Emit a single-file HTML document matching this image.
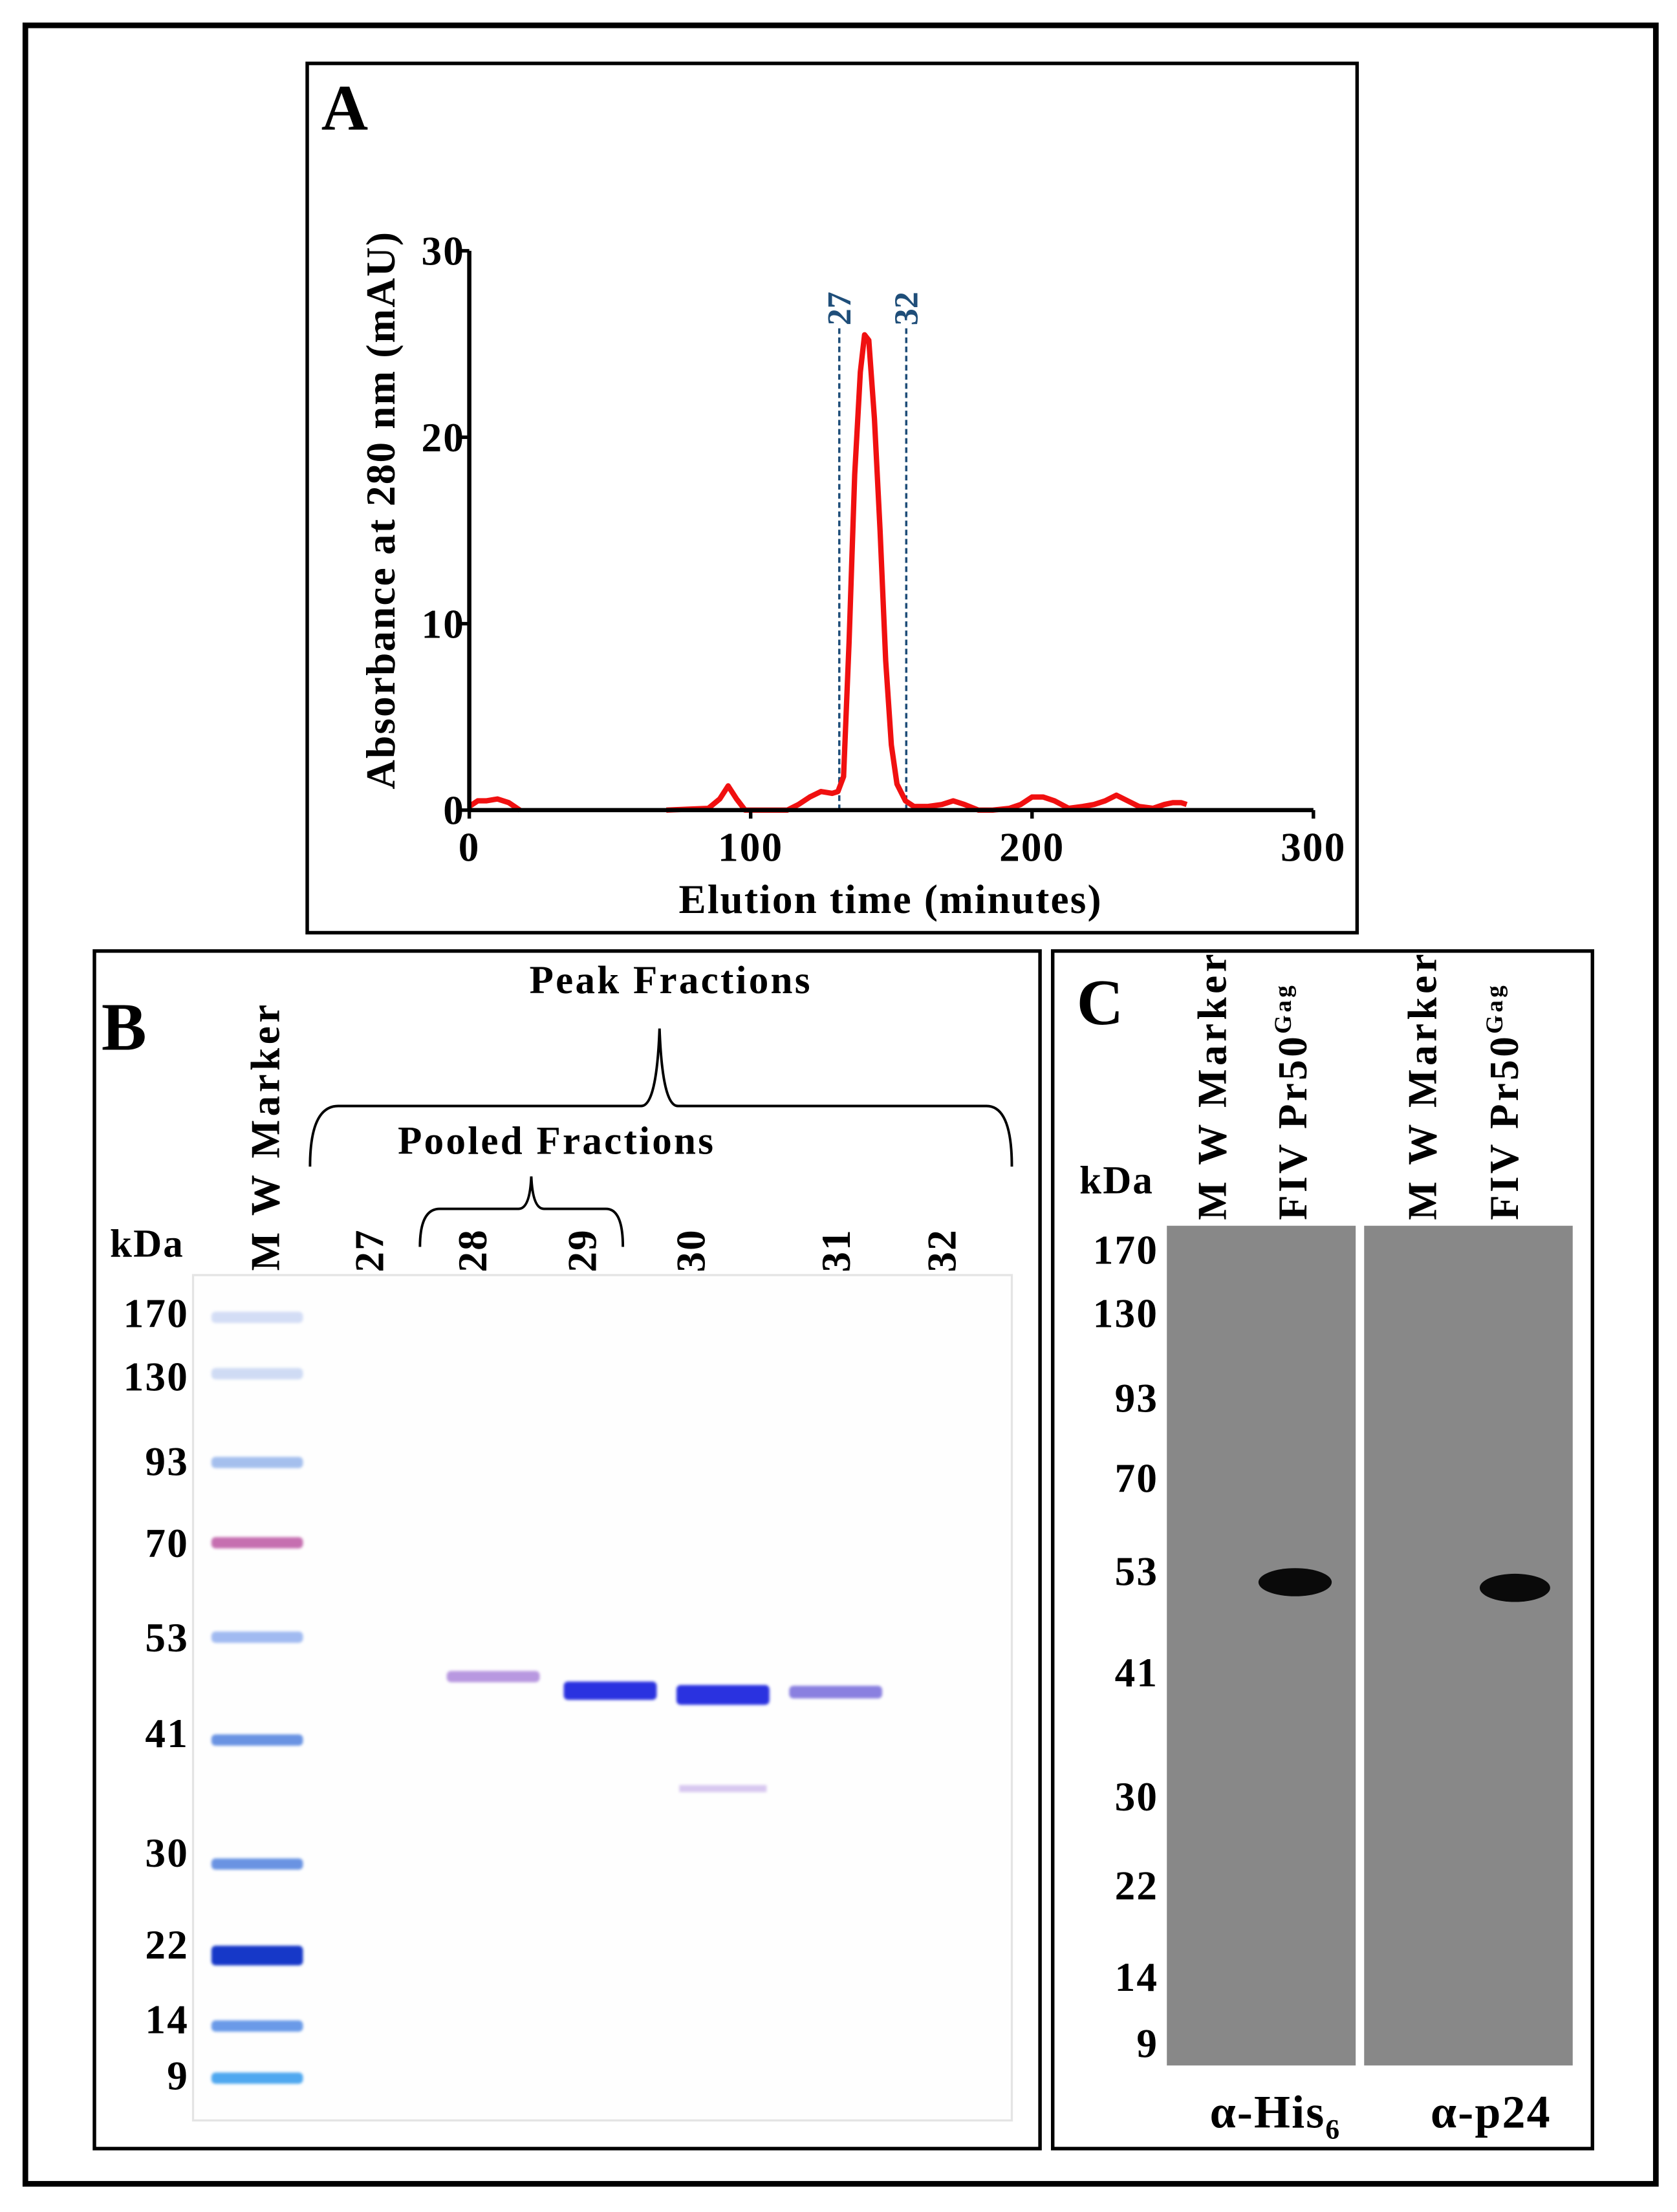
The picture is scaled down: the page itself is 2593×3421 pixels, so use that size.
<!DOCTYPE html>
<html><head><meta charset="utf-8"><style>
html,body{margin:0;padding:0;background:#fff;}
svg{display:block;}
text{font-family:"Liberation Serif",serif;font-weight:bold;fill:#000;}
</style></head><body>
<svg id="fig" width="2593" height="3421" viewBox="0 0 1190 1570" xmlns="http://www.w3.org/2000/svg">
<defs>
<filter id="blur2" x="-20%" y="-200%" width="140%" height="500%"><feGaussianBlur stdDeviation="1"/></filter>
</defs>
<rect x="0" y="0" width="1190" height="1570" fill="#fff"/>
<rect x="18" y="18" width="1157" height="1532" fill="none" stroke="#000" stroke-width="4"/>

<g>
<rect x="218" y="45" width="745" height="617" fill="none" stroke="#000" stroke-width="2.5"/>
<text x="228" y="92" font-size="46">A</text>
<g id="chartA"></g>
<text x="632" y="648" font-size="29" letter-spacing="1" text-anchor="middle">Elution time (minutes)</text>
<text transform="translate(280,362) rotate(-90)" font-size="29" letter-spacing="1" text-anchor="middle">Absorbance at 280 nm (mAU)</text>
</g>

<g>
<rect x="67" y="675" width="671" height="850" fill="none" stroke="#000" stroke-width="2.5"/>
<text x="72" y="745" font-size="48">B</text>
<text x="476" y="705" font-size="28" letter-spacing="1.5" text-anchor="middle">Peak Fractions</text>
<path d="M220,828 Q220,785 240,785 L455,785 Q466,785 468,730 Q470,785 481,785 L700,785 Q718,785 718,828" fill="none" stroke="#000" stroke-width="1.8"/>
<text x="395" y="819" font-size="28" letter-spacing="1.5" text-anchor="middle">Pooled Fractions</text>
<path d="M298,885 Q298,858 312,858 L368,858 Q376,858 377,835 Q378,858 386,858 L430,858 Q442,858 442,885" fill="none" stroke="#000" stroke-width="1.8"/>
<text x="78" y="892" font-size="28" letter-spacing="1">kDa</text>
<text transform="translate(198,902) rotate(-90)" font-size="29" letter-spacing="2.5">M W Marker</text>
<g id="laneNums" font-size="29" letter-spacing="1"></g>
<rect x="137" y="905" width="581" height="600" fill="#fefefe" stroke="#e4e4e4" stroke-width="1.5"/>
<g id="gelB"></g>
</g>

<g>
<rect x="747" y="675" width="383" height="850" fill="none" stroke="#000" stroke-width="2.5"/>
<text x="764" y="727" font-size="46">C</text>
<text x="766" y="847" font-size="28" letter-spacing="1">kDa</text>
<text transform="translate(870,866) rotate(-90)" font-size="29" letter-spacing="2.5">M W Marker</text>
<text transform="translate(927,866) rotate(-90)" font-size="29" letter-spacing="2">FIV Pr50<tspan font-size="17" dy="-11">Gag</tspan></text>
<text transform="translate(1019,866) rotate(-90)" font-size="29" letter-spacing="2.5">M W Marker</text>
<text transform="translate(1077,866) rotate(-90)" font-size="29" letter-spacing="2">FIV Pr50<tspan font-size="17" dy="-11">Gag</tspan></text>
<rect x="828" y="870" width="134" height="596" fill="#888"/>
<rect x="968" y="870" width="148" height="596" fill="#888"/>
<ellipse cx="919" cy="1123" rx="26" ry="10" fill="#0a0a0a"/>
<ellipse cx="1075" cy="1127" rx="25" ry="10" fill="#0a0a0a"/>
<g id="mwC" font-size="29" letter-spacing="1"></g>
<text x="905" y="1510" font-size="33" letter-spacing="1" text-anchor="middle">α-His<tspan font-size="20" dy="8">6</tspan></text>
<text x="1058" y="1510" font-size="33" letter-spacing="1" text-anchor="middle">α-p24</text>
</g>
</svg>
<script>
const timeMin = [0,3,6,10,14,18,70,78,85,89,92,95,98,113,117,121,125,129,131,133,135,137,139,140.5,142,144,146,148,150,152,155,158,163,168,172,176,181,186,192,196,200,204,208,213,218,222,226,230,234,238,243,247,250,253,255];
const absorb = [0.2,0.5,0.5,0.6,0.4,0,0,0.05,0.1,0.6,1.3,0.6,0,0,0.3,0.7,1.0,0.9,1.0,1.8,9,18,23.5,25.5,25.2,21,15,8,3.5,1.4,0.5,0.2,0.2,0.3,0.5,0.3,0,0,0.1,0.3,0.7,0.7,0.5,0.1,0.2,0.3,0.5,0.8,0.5,0.2,0.1,0.3,0.4,0.4,0.3];
const fractionMarks = [131.5, 155.3];
const fractionNames = ["27","32"];
const xTicks = [0,100,200,300];
const yTicks = [0,10,20,30];

const NS = "http://www.w3.org/2000/svg";
const X0=333, X1=932, Y0=575, Y1=178;
const xs = v => X0 + (v/300)*(X1-X0);
const ys = v => Y0 - (v/30)*(Y0-Y1);
const chart = document.getElementById('chartA');
function mk(tag, attrs, parent){const e=document.createElementNS(NS,tag);for(const k in attrs)e.setAttribute(k,attrs[k]);parent.appendChild(e);return e;}

fractionMarks.forEach((f,i)=>{
  const l = mk('line',{x1:xs(f),x2:xs(f),y1:Y0,y2:232,stroke:'#1f4e79','stroke-width':1.6,'stroke-dasharray':'4,2.5'},chart);
  
  
  const t = mk('text',{transform:`translate(${xs(f)+8},231) rotate(-90)`,'font-size':24,style:'fill:#1f4e79'},chart);
  t.textContent = fractionNames[i];
  
  
});
let d='';
for(let i=0;i<timeMin.length;i++){
  const gap = i>0 && timeMin[i]-timeMin[i-1]>20;
  d += (i===0||gap?'M':'L') + xs(timeMin[i]).toFixed(1)+','+ys(absorb[i]).toFixed(1)+' ';
}
const curve = mk('path',{d:d,fill:'none',stroke:'#f01010','stroke-width':3.8,'stroke-linejoin':'round'},chart);


const xa = mk('line',{x1:X0,x2:X1,y1:Y0,y2:Y0,stroke:'#000','stroke-width':3},chart);


const ya = mk('line',{x1:X0,x2:X0,y1:Y0,y2:Y1,stroke:'#000','stroke-width':3},chart);


xTicks.forEach(v=>{
  mk('line',{x1:xs(v),x2:xs(v),y1:Y0,y2:Y0+6,stroke:'#000','stroke-width':2.5},chart);
  const t = mk('text',{x:xs(v),y:Y0+36,'font-size':29,'letter-spacing':1,'text-anchor':'middle'},chart);
  t.textContent=v;
  
  
});
yTicks.forEach(v=>{
  mk('line',{x1:X0-6,x2:X0,y1:ys(v),y2:ys(v),stroke:'#000','stroke-width':2.5},chart);
  const t = mk('text',{x:X0-3,y:ys(v)+10,'font-size':29,'letter-spacing':1,'text-anchor':'end'},chart);
  t.textContent=v;
  
  
});

const laneLabels = ["27","28","29","30","31","32"];
const laneX = [272,345,423,500,603,678];
const ln = document.getElementById('laneNums');
laneLabels.forEach((s,i)=>{
  const t = mk('text',{transform:`translate(${laneX[i]},903) rotate(-90)`},ln);
  t.textContent=s;
  
  
});
const mwB = ["170","130","93","70","53","41","30","22","14","9"];
const mwBy = [932,977,1037,1095,1162,1230,1315,1380,1433,1473];
const markerBandY = [935,975,1038,1095,1162,1235,1323,1388,1438,1475];
const markerColors = ['#b8c8f0','#b0c4ee','#8fb0ea','#c060a8','#8aaaee','#5a88e0','#5a88e0','#1838c8','#5a90e6','#50a8f0'];
const markerOpac = [0.6,0.6,0.8,0.9,0.8,0.9,0.9,1,0.9,1];
const g = document.getElementById('gelB');
mwB.forEach((s,i)=>{
  const t = mk('text',{x:134,y:mwBy[i]+10,'font-size':29,'letter-spacing':1,'text-anchor':'end'},g);
  t.textContent=s;
  
  
  const b = mk('rect',{x:150,y:markerBandY[i]-(i===7?7:4),width:65,height:(i===7?14:8),rx:3,fill:markerColors[i],opacity:markerOpac[i],filter:'url(#blur2)'},g);
  
  
});
const sampleX = [317,400,480,560];
const sampleY = [1190,1200,1203,1201];
const sampleCol = ['#b898e0','#2a30e0','#2a30e0','#8a80e0'];
const sampleH = [8,13,14,9];
sampleX.forEach((x,i)=>{
  const b = mk('rect',{x:x,y:sampleY[i]-sampleH[i]/2,width:66,height:sampleH[i],rx:3,fill:sampleCol[i],filter:'url(#blur2)'},g);
  
  
});
const fb = mk('rect',{x:482,y:1267,width:62,height:5,fill:'#d8c8f0',filter:'url(#blur2)'},g);



const mwC = ["170","130","93","70","53","41","30","22","14","9"];
const mwCy = [887,932,992,1049,1115,1187,1275,1338,1403,1450];
const gc = document.getElementById('mwC');
mwC.forEach((s,i)=>{
  const t = mk('text',{x:822,y:mwCy[i]+10,'text-anchor':'end'},gc);
  t.textContent=s;
  
  
});
</script>
</body></html>
